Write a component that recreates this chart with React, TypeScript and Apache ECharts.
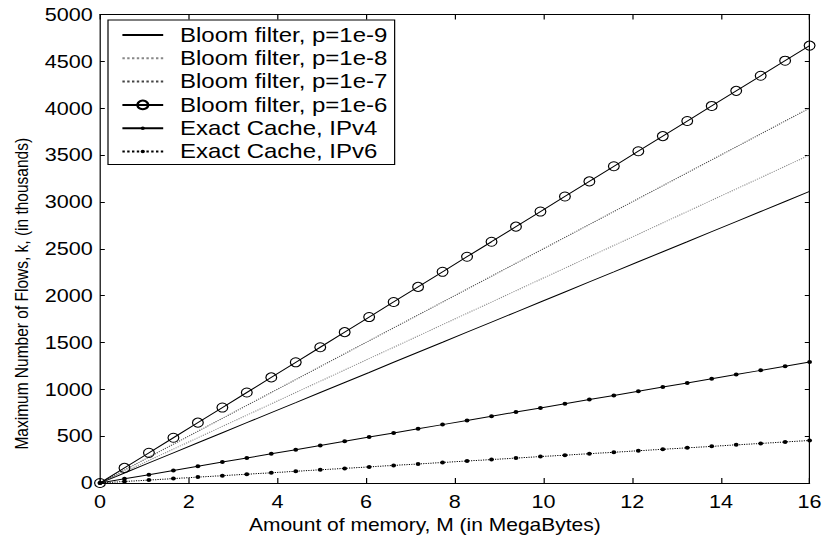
import React, { useEffect, useRef } from "react";
import * as echarts from "echarts";

// Memory sizes (MB) at which the curves are sampled
const memoryMB = [0, 0.552, 1.103, 1.655, 2.207, 2.759, 3.31, 3.862, 4.414, 4.966, 5.517, 6.069, 6.621, 7.172, 7.724, 8.276, 8.828, 9.379, 9.931, 10.483, 11.034, 11.586, 12.138, 12.69, 13.241, 13.793, 14.345, 14.897, 15.448, 16];

// Maximum number of flows (thousands)
const bloom1e9 = [0, 107, 215, 322, 429, 537, 644, 751, 858, 966, 1073, 1180, 1288, 1395, 1502, 1610, 1717, 1824, 1931, 2039, 2146, 2253, 2361, 2468, 2575, 2683, 2790, 2897, 3004, 3112];
const bloom1e8 = [0, 121, 241, 362, 483, 604, 724, 845, 966, 1086, 1207, 1328, 1448, 1569, 1690, 1811, 1931, 2052, 2173, 2293, 2414, 2535, 2655, 2776, 2897, 3018, 3138, 3259, 3380, 3500];
const bloom1e7 = [0, 138, 276, 414, 552, 690, 828, 966, 1104, 1242, 1380, 1518, 1656, 1793, 1931, 2069, 2207, 2345, 2483, 2621, 2759, 2897, 3035, 3173, 3311, 3449, 3587, 3725, 3863, 4001];
const bloom1e6 = [0, 161, 322, 483, 644, 805, 966, 1127, 1288, 1449, 1610, 1771, 1932, 2093, 2254, 2415, 2575, 2736, 2897, 3058, 3219, 3380, 3541, 3702, 3863, 4024, 4185, 4346, 4507, 4668];
const exactIPv4 = [0, 45, 89, 134, 178, 223, 267, 312, 356, 401, 445, 490, 534, 579, 623, 668, 712, 757, 801, 846, 890, 935, 979, 1024, 1068, 1113, 1157, 1202, 1246, 1291];
const exactIPv6 = [0, 16, 31, 47, 63, 78, 94, 109, 125, 141, 156, 172, 188, 203, 219, 235, 250, 266, 282, 297, 313, 328, 344, 360, 375, 391, 407, 422, 438, 454];

const seriesNames = [
  "Bloom filter, p=1e-9",
  "Bloom filter, p=1e-8",
  "Bloom filter, p=1e-7",
  "Bloom filter, p=1e-6",
  "Exact Cache, IPv4",
  "Exact Cache, IPv6",
];

const xTitle = "Amount of memory, M (in MegaBytes)";
const yTitle = "Maximum Number of Flows, k, (in thousands)";

const FONT = 'Arial, "Liberation Sans", Helvetica, sans-serif';
const DOT = "path://M0 0M10 10M5 3A2 2 0 1 1 5 7A2 2 0 1 1 5 3Z";

const STRETCH = 1.2;
const W = 825 / STRETCH;
const H = 535;

export default function App() {
  const ref = useRef<HTMLDivElement>(null);

  useEffect(() => {
    if (!ref.current) return;
    const chart = echarts.init(ref.current, undefined, { renderer: "svg" });
    const pairs = (ys: number[]) => memoryMB.map((x, i) => [x, ys[i]]);

    const plain = (name: string, ys: number[], color: string, type: string) => ({
      name,
      type: "line",
      data: pairs(ys),
      symbol: "none",
      showSymbol: false,
      clip: false,
      lineStyle: { color, width: 1, type },
      itemStyle: { color: "transparent" },
    });

    chart.setOption({
      animation: false,
      backgroundColor: "#fff",
      textStyle: { fontFamily: FONT },
      grid: {
        left: 100 / STRETCH,
        right: W - 809 / STRETCH,
        top: 14.5,
        bottom: 52,
        containLabel: false,
        outerBoundsMode: "none",
      },
      legend: {
        orient: "vertical",
        left: 90,
        top: 20,
        itemWidth: 34,
        itemHeight: 11,
        itemGap: 3.3,
        padding: [5, 6, 3, 11],
        backgroundColor: "#fff",
        borderColor: "#000",
        borderWidth: 1,
        borderRadius: 0,
        textStyle: { fontSize: 20, color: "#000", fontFamily: FONT, padding: [0, 0, 0, 9] },
        data: seriesNames,
      },
      xAxis: [
        {
          type: "value",
          min: 0,
          max: 16,
          interval: 2,
          position: "bottom",
          name: xTitle,
          nameLocation: "middle",
          nameGap: 30,
          nameTextStyle: { fontSize: 17.5, color: "#000", fontFamily: FONT, padding: [0, 50, 0, 0] },
          axisLine: { show: true, onZero: false, lineStyle: { color: "#000", width: 1 } },
          axisTick: { show: true, inside: true, length: 5, lineStyle: { color: "#000" } },
          axisLabel: { fontSize: 18, color: "#000", margin: 10, fontFamily: FONT },
          splitLine: { show: false },
        },
        {
          type: "value",
          min: 0,
          max: 16,
          interval: 2,
          position: "top",
          axisLine: { show: true, onZero: false, lineStyle: { color: "#000", width: 1 } },
          axisTick: { show: true, inside: true, length: 5, lineStyle: { color: "#000" } },
          axisLabel: { show: false },
          splitLine: { show: false },
        },
      ],
      yAxis: [
        {
          type: "value",
          min: 0,
          max: 5000,
          interval: 500,
          position: "left",
          name: yTitle,
          nameLocation: "middle",
          nameGap: 56,
          nameTextStyle: { fontSize: 15.5, color: "#000", fontFamily: FONT, padding: [0, 90, 0, 0] },
          axisLine: { show: true, onZero: false, lineStyle: { color: "#000", width: 1 } },
          axisTick: { show: true, inside: true, length: 4, lineStyle: { color: "#000" } },
          axisLabel: {
            fontSize: 18,
            color: "#000",
            margin: 6,
            fontFamily: FONT,
            formatter: (v: number) => String(v),
          },
          splitLine: { show: false },
        },
        {
          type: "value",
          min: 0,
          max: 5000,
          interval: 500,
          position: "right",
          axisLine: { show: true, onZero: false, lineStyle: { color: "#000", width: 1 } },
          axisTick: { show: true, inside: true, length: 4, lineStyle: { color: "#000" } },
          axisLabel: { show: false },
          splitLine: { show: false },
        },
      ],
      series: [
        plain(seriesNames[0], bloom1e9, "#000", "solid"),
        plain(seriesNames[1], bloom1e8, "#888", "dotted"),
        plain(seriesNames[2], bloom1e7, "#444", "dotted"),
        {
          name: seriesNames[3],
          type: "line",
          data: pairs(bloom1e6),
          symbol: "circle",
          symbolSize: 9,
          clip: false,
          lineStyle: { color: "#000", width: 1 },
          itemStyle: { color: "transparent", borderColor: "#000", borderWidth: 1 },
        },
        {
          name: seriesNames[4],
          type: "line",
          data: pairs(exactIPv4),
          symbol: DOT,
          symbolSize: 10,
          clip: false,
          lineStyle: { color: "#000", width: 1 },
          itemStyle: { color: "#000" },
        },
        {
          name: seriesNames[5],
          type: "line",
          data: pairs(exactIPv6),
          symbol: DOT,
          symbolSize: 10,
          clip: false,
          lineStyle: { color: "#000", width: 1, type: "dotted" },
          itemStyle: { color: "#000" },
        },
      ],
    });
    return () => chart.dispose();
  }, []);

  return (
    <div
      ref={ref}
      style={{
        position: "absolute",
        left: 0,
        top: 0,
        width: W,
        height: H,
        transform: `scaleX(${STRETCH})`,
        transformOrigin: "0 0",
      }}
    />
  );
}
